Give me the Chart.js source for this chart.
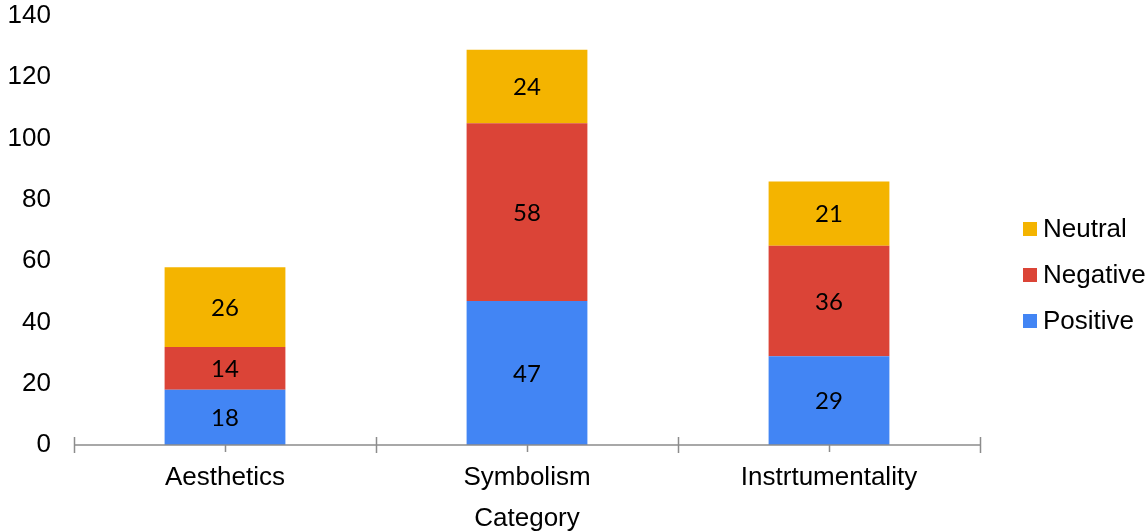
<!DOCTYPE html>
<html>
<head>
<meta charset="utf-8">
<script src="https://cdn.jsdelivr.net/npm/chart.js@4/dist/chart.umd.min.js"></script>
<style>
  html, body { margin: 0; padding: 0; background: #fff; }
  #wrap { width: 1148px; height: 531px; position: relative; }
</style>
</head>
<body>
<div id="wrap"><canvas id="c"></canvas></div>
<script>
// Categories and counts per sentiment
const categories = ['Aesthetics', 'Symbolism', 'Instrtumentality'];
const positive = [18, 47, 29];
const negative = [14, 58, 36];
const neutral = [26, 24, 21];
const yTicks = [0, 20, 40, 60, 80, 100, 120, 140];

const COLORS = { positive: '#4285F4', negative: '#DB4437', neutral: '#F4B400' };
const AXIS_COLOR = '#8c8c8c';
const TEXT_FONT = '"Liberation Sans", Arial, sans-serif';

// Value labels centred inside each stacked segment
const segmentLabels = {
  id: 'segmentLabels',
  afterDatasetsDraw(chart) {
    const ctx = chart.ctx;
    ctx.save();
    ctx.font = '24px Lato, "Open Sans", sans-serif';
    ctx.fillStyle = '#000';
    ctx.textAlign = 'center';
    ctx.textBaseline = 'middle';
    chart.data.datasets.forEach((ds, di) => {
      const meta = chart.getDatasetMeta(di);
      meta.data.forEach((bar, i) => {
        const v = ds.data[i];
        ctx.fillText(String(v), bar.x, (bar.y + bar.base) / 2 + 1);
      });
    });
    ctx.restore();
  }
};

// Category axis tick marks: boundary ticks cross the axis, centre ticks hang below
const axisTicks = {
  id: 'axisTicks',
  afterDraw(chart) {
    const x = chart.scales.x;
    const y0 = chart.scales.y.getPixelForValue(0);
    const ctx = chart.ctx;
    ctx.save();
    ctx.strokeStyle = AXIS_COLOR;
    ctx.lineWidth = 1.5;
    const n = categories.length;
    const half = (x.getPixelForValue(1) - x.getPixelForValue(0)) / 2;
    ctx.beginPath();
    for (let i = 0; i <= n; i++) {
      const px = Math.round(x.getPixelForValue(i) - half) + 0.5;
      ctx.moveTo(px, y0 - 8);
      ctx.lineTo(px, y0 + 8);
    }
    for (let i = 0; i < n; i++) {
      const px = Math.round(x.getPixelForValue(i)) + 0.5;
      ctx.moveTo(px, y0);
      ctx.lineTo(px, y0 + 7);
    }
    ctx.moveTo(x.left, y0);
    ctx.lineTo(x.right, y0);
    ctx.stroke();
    ctx.restore();
  }
};

// Legend on the right, listed top-down from the top of the stack
const sideLegend = {
  id: 'sideLegend',
  afterDraw(chart) {
    const ctx = chart.ctx;
    const area = chart.chartArea;
    const items = chart.data.datasets.slice().reverse();
    ctx.save();
    ctx.font = '26px ' + TEXT_FONT;
    ctx.textBaseline = 'middle';
    ctx.textAlign = 'left';
    const boxX = area.right + 43;
    const firstY = 229;
    items.forEach((ds, k) => {
      const cy = firstY + k * 46;
      ctx.fillStyle = ds.backgroundColor;
      ctx.fillRect(boxX, cy - 7, 14, 14);
      ctx.fillStyle = '#000';
      ctx.fillText(ds.label, boxX + 20, cy + 1);
    });
    ctx.restore();
  }
};

new Chart(document.getElementById('c'), {
  type: 'bar',
  data: {
    labels: categories,
    datasets: [
      { label: 'Positive', data: positive, backgroundColor: COLORS.positive },
      { label: 'Negative', data: negative, backgroundColor: COLORS.negative },
      { label: 'Neutral', data: neutral, backgroundColor: COLORS.neutral }
    ]
  },
  options: {
    responsive: true,
    maintainAspectRatio: false,
    animation: false,
    devicePixelRatio: 1,
    layout: { padding: { top: 16, right: 168, left: 0, bottom: 0 } },
    datasets: { bar: { categoryPercentage: 1, barPercentage: 0.4, borderWidth: 0 } },
    plugins: {
      legend: { display: false },
      tooltip: { enabled: false }
    },
    scales: {
      x: {
        stacked: true,
        afterFit(scale) { scale.height = 86; scale.paddingLeft = 0; scale.paddingRight = 0; },
        grid: { display: false, drawTicks: false },
        border: { display: false },
        ticks: {
          color: '#000',
          padding: 17,
          font: { family: TEXT_FONT, size: 26 }
        },
        title: {
          display: true,
          text: 'Category',
          color: '#000',
          padding: { top: 0, bottom: -3 },
          font: { family: TEXT_FONT, size: 26 }
        }
      },
      y: {
        stacked: true,
        min: 0,
        max: 140,
        afterBuildTicks(scale) { scale.ticks = yTicks.map(v => ({ value: v })); },
        afterFit(scale) { scale.width = 74; scale.paddingTop = 0; scale.paddingBottom = 0; },
        grid: { display: false, drawTicks: false },
        border: { display: false },
        ticks: {
          color: '#000',
          padding: 23,
          font: { family: TEXT_FONT, size: 26 }
        }
      }
    }
  },
  plugins: [segmentLabels, axisTicks, sideLegend]
});
</script>
</body>
</html>
